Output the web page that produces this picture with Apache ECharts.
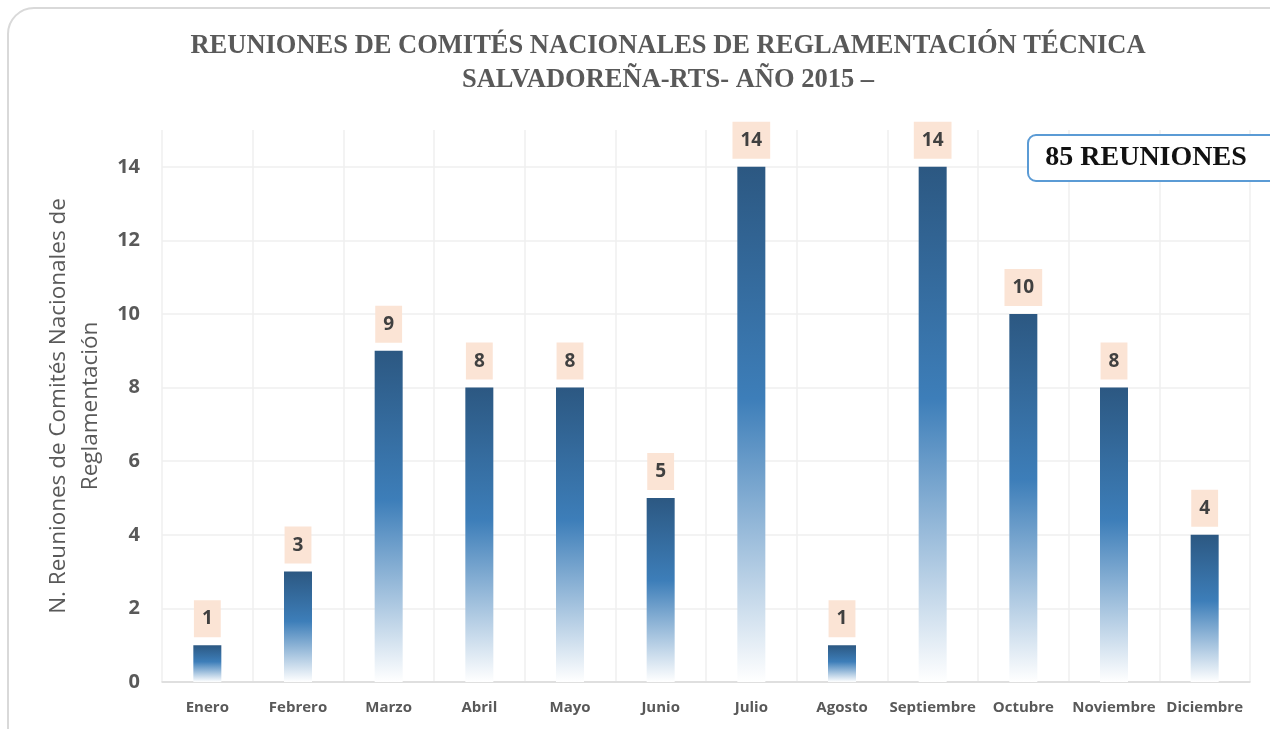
<!DOCTYPE html>
<html>
<head>
<meta charset="utf-8">
<script src="https://cdn.jsdelivr.net/npm/echarts@6/dist/echarts.min.js"></script>
<style>
  html, body { margin: 0; padding: 0; background: #fff; }
  #main { width: 1270px; height: 729px; }
</style>
</head>
<body>
<div id="main"></div>
<script>
// datos del grafico
var meses = ['Enero', 'Febrero', 'Marzo', 'Abril', 'Mayo', 'Junio', 'Julio', 'Agosto', 'Septiembre', 'Octubre', 'Noviembre', 'Diciembre'];
var reuniones = [1, 3, 9, 8, 8, 5, 14, 1, 14, 10, 8, 4];
var titulo = 'REUNIONES DE COMITÉS NACIONALES DE REGLAMENTACIÓN TÉCNICA\nSALVADOREÑA-RTS- AÑO 2015 –';
var totalTexto = '85 REUNIONES';

var myChart = echarts.init(document.getElementById('main'));
var option = {
    backgroundColor: '#fff',
    title: {
        text: titulo,
        left: 663,
        textAlign: 'center',
        top: 24,
        textStyle: {
            fontFamily: 'Liberation Serif',
            fontWeight: 'bold',
            fontSize: 26.5,
            lineHeight: 34,
            color: '#595959'
        }
    },
    graphic: [
        { // borde exterior
            type: 'rect',
            shape: { x: 8, y: 8, width: 1290, height: 760, r: 26 },
            style: { fill: 'none', stroke: '#d9d9d9', lineWidth: 2 },
            z: -1
        },
        { // caja total
            type: 'rect',
            shape: { x: 1028, y: 135, width: 260, height: 46, r: 8 },
            style: { fill: '#fff', stroke: '#5b9bd5', lineWidth: 2 },
            z: 10
        },
        {
            type: 'text',
            x: 1146, y: 158,
            style: {
                text: totalTexto,
                fontFamily: 'Liberation Serif',
                fontWeight: 'bold',
                fontSize: 28,
                fill: '#111',
                align: 'center',
                verticalAlign: 'middle'
            },
            z: 11
        }
    ],
    grid: { left: 162, right: 20, top: 130, bottom: 47 },
    xAxis: {
        type: 'category',
        data: meses,
        axisLine: { lineStyle: { color: '#d9d9d9', width: 1.5 } },
        axisTick: { show: false },
        splitLine: { show: true, lineStyle: { color: '#efefef', width: 1.5 } },
        axisLabel: {
            color: '#595959',
            fontFamily: 'Open Sans',
            fontWeight: 'bold',
            fontSize: 15,
            margin: 18,
            interval: 0
        }
    },
    yAxis: {
        type: 'value',
        min: 0,
        max: 15,
        interval: 2,
        name: 'N. Reuniones de Comités Nacionales de\nReglamentación',
        nameLocation: 'middle',
        nameGap: 53,
        nameTextStyle: {
            color: '#595959',
            fontFamily: 'Open Sans',
            fontSize: 22.5,
            lineHeight: 32
        },
        axisLine: { show: false },
        axisTick: { show: false },
        splitLine: { show: true, showMaxLine: false, lineStyle: { color: '#efefef', width: 1.5 } },
        axisLabel: {
            showMaxLabel: false,
            color: '#595959',
            fontFamily: 'Open Sans',
            fontWeight: 'bold',
            fontSize: 20,
            margin: 22
        }
    },
    series: [{
        type: 'bar',
        data: reuniones,
        barWidth: 28,
        itemStyle: {
            color: new echarts.graphic.LinearGradient(0, 0, 0, 1, [
                { offset: 0, color: '#2c5882' },
                { offset: 0.45, color: '#3d7eb9' },
                { offset: 1, color: '#ffffff' }
            ])
        },
        label: {
            show: true,
            position: 'top',
            distance: 8,
            color: '#404040',
            fontFamily: 'Open Sans',
            fontWeight: 'bold',
            fontSize: 19,
            backgroundColor: '#fbe4d5',
            padding: [9, 8, 9, 8]
        }
    }]
};
myChart.setOption(option);
</script>
</body>
</html>
